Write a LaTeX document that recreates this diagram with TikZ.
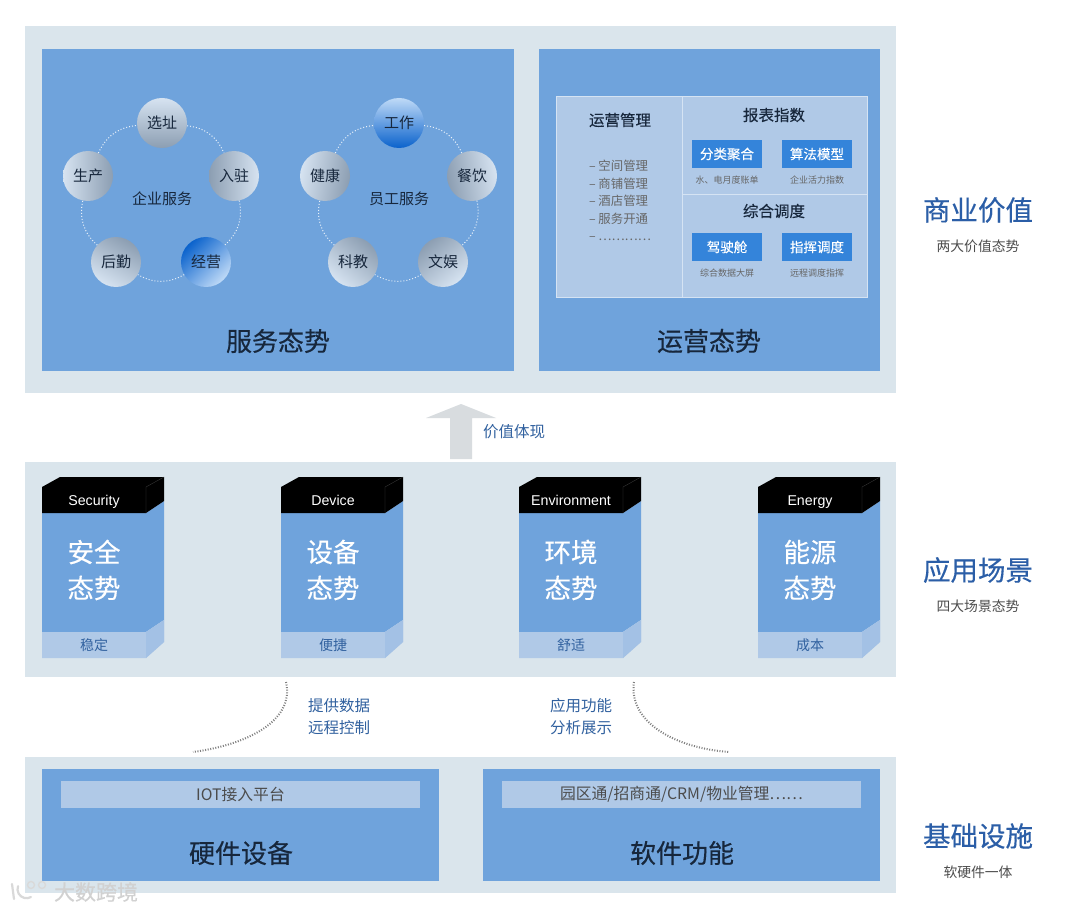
\documentclass[tikz,border=0pt]{standalone}
\usepackage{fontspec}
\setmainfont{Noto Sans CJK SC}
\newfontfamily\medfont[FakeBold=0.35]{Noto Sans CJK SC}
\newfontfamily\latinfont{Liberation Sans}
\usetikzlibrary{arrows.meta}
\definecolor{bandbg}{HTML}{DAE5EC}
\definecolor{panelblue}{HTML}{6FA3DC}
\definecolor{paleblue}{HTML}{B0C9E7}
\definecolor{btnblue}{HTML}{3484DA}
\definecolor{titleblue}{HTML}{2B5EA7}
\definecolor{labelblue}{HTML}{31619F}
\definecolor{inkdark}{HTML}{17273C}
\definecolor{ballhi}{HTML}{D6E3F1}
\definecolor{balllo}{HTML}{8C9EB2}
\definecolor{bluehi}{HTML}{BFDAF7}
\definecolor{bluelo}{HTML}{0A62CC}
\definecolor{arrowgray}{HTML}{D8DCDF}
\definecolor{boardline}{HTML}{D5E3F3}
\newcommand{\sizept}[1]{\fontsize{#1}{#1}\selectfont}
\tikzset{
  ball/.style={circle,inner sep=0pt,minimum size=50pt,text=inkdark,font=\sizept{15},
    top color=ballhi,bottom color=balllo,shading angle=#1},
  blueball/.style={circle,inner sep=0pt,minimum size=50pt,text=inkdark,font=\sizept{15},
    top color=bluehi,bottom color=bluelo,shading angle=#1},
  ringlink/.style={draw=white!85!panelblue,dotted,line width=1pt,bend left=30},
  linkcurve/.style={draw=black!50,line width=2pt,dash pattern=on 1pt off 1.6pt},
  paneltitle/.style={font=\medfont\sizept{26},text=inkdark},
  sidetitle/.style={font=\medfont\sizept{27.5},text=titleblue},
  sidenote/.style={font=\sizept{13.8},text=black!70},
  ringlabel/.style={font=\sizept{15},text=inkdark},
  flowlabel/.style={font=\fontsize{15.5}{22}\selectfont,text=labelblue,align=center},
  opshead/.style={font=\medfont\sizept{15.5},text=inkdark},
  opsbtn/.style={fill=btnblue,text=white,minimum width=70pt,minimum height=28pt,inner sep=0pt,font=\medfont\sizept{13.5}},
  opsnote/.style={font=\sizept{9},text=black!60},
  barlabel/.style={fill=paleblue,minimum width=359pt,minimum height=27pt,inner sep=0pt,font=\sizept{15.8},text=black!70},
  boardrule/.style={draw=boardline,line width=1pt},
}
\begin{document}
\begin{tikzpicture}[x=1pt,y=-1pt]
\useasboundingbox (0,0) rectangle (1080,912);
\fill[white] (0,0) rectangle (1080,912);
% state block helper: #1 = left-x, #2 = name, #3 = header, #4 = first line, #5 = foot label
\newcommand{\stateblock}[5]{%
  \fill[panelblue] (#1,513) -- (#1+104,513) -- (#1+122,501) -- (#1+122,620) -- (#1+104,632) -- (#1,632) -- cycle;
  \fill[paleblue] (#1,632) -- (#1+104,632) -- (#1+122,620) -- (#1+122,642) -- (#1+104,658) -- (#1,658) -- cycle;
  \fill[paleblue!80!panelblue] (#1+104,632) -- (#1+122,620) -- (#1+122,642) -- (#1+104,658) -- cycle;
  \fill[black] (#1,487) -- (#1+18,477) -- (#1+122,477) -- (#1+122,501) -- (#1+104,513) -- (#1,513) -- cycle;
  \draw[black!75,line width=0.3pt] (#1+104,513) -- (#1+104,487) -- (#1+122,477);
  \node[text=white,font=\latinfont\sizept{14.2},anchor=base] (#2head) at (#1+52,505) {#3};
  \node[text=white,font=\medfont\sizept{26.5}] (#2top) at (#1+52,552) {#4};
  \node[text=white,font=\medfont\sizept{26.5}] (#2low) at (#1+52,588) {态势};
  \node[text=labelblue,font=\sizept{14}] (#2foot) at (#1+52,645) {#5};
}
% three background bands
\fill[bandbg] (25,26) rectangle (896,393);
\fill[bandbg] (25,462) rectangle (896,677);
\fill[bandbg] (25,757) rectangle (896,893);
% top panels
\fill[panelblue] (42,49) rectangle (514,371);
\fill[panelblue] (539,49) rectangle (880,371);
\node[paneltitle] (svctitle) at (278,341) {服务态势};
\node[paneltitle] (opstitle) at (709,341) {运营态势};
% enterprise ring
\node[ball=0] (site) at (162,123) {选址};
\node[ball=90] (prod) at (88,176) {生产};
\node[ball=-90] (entry) at (234,176) {入驻};
\node[ball=150] (back) at (116,262) {后勤};
\node[blueball=225] (biz) at (206,262) {经营};
\node[ringlabel] (bizlabel) at (162,199) {企业服务};
\draw[ringlink] (prod) to (site);
\draw[ringlink] (site) to (entry);
\draw[ringlink] (entry) to (biz);
\draw[ringlink] (biz) to (back);
\draw[ringlink] (back) to (prod);
% staff ring
\node[blueball=0] (work) at (399,123) {工作};
\node[ball=80] (health) at (325,176) {健康};
\node[ball=-80] (food) at (472,176) {餐饮};
\node[ball=140] (edu) at (353,262) {科教};
\node[ball=220] (fun) at (443,262) {文娱};
\node[ringlabel] (stafflabel) at (399,199) {员工服务};
\draw[ringlink] (health) to (work);
\draw[ringlink] (work) to (food);
\draw[ringlink] (food) to (fun);
\draw[ringlink] (fun) to (edu);
\draw[ringlink] (edu) to (health);
% operations board
\fill[paleblue] (556,97) rectangle (867,298);
\draw[boardrule] (556,97) rectangle (867,298);
\draw[boardrule] (682,97) -- (682,298);
\draw[boardrule] (682,195) -- (867,195);
\node[opshead] (mgrhead) at (620,120) {运营管理};
\node[font=\fontsize{12.4}{17.6}\selectfont,text=black!60,align=left] (mgrlist) at (620,200.5)
  {– 空间管理\\ – 商铺管理\\ – 酒店管理\\ – 服务开通\\ – …………};
\node[opshead] (rpthead) at (774,115) {报表指数};
\node[opsbtn] (btnsort) at (727,154) {分类聚合};
\node[opsbtn] (btnalgo) at (817,154) {算法模型};
\node[opsnote] (notebill) at (727,180) {水、电月度账单};
\node[opsnote] (notepower) at (817,180) {企业活力指数};
\node[opshead] (dsphead) at (774,211) {综合调度};
\node[opsbtn] (btncab) at (727,247) {驾驶舱};
\node[opsbtn] (btncmd) at (817,247) {指挥调度};
\node[opsnote] (notescreen) at (727,273) {综合数据大屏};
\node[opsnote] (noteremote) at (817,273) {远程调度指挥};
% value arrow
\fill[arrowgray] (450,459) -- (450,418) -- (426,418) -- (461,404) -- (496,418) -- (472,418) -- (472,459) -- cycle;
\node[flowlabel] (valuelabel) at (514,432) {价值体现};
% four state blocks
\stateblock{42}{safe}{Security}{安全}{稳定}
\stateblock{281}{dev}{Device}{设备}{便捷}
\stateblock{519}{env}{Environment}{环境}{舒适}
\stateblock{758}{nrg}{Energy}{能源}{成本}
% dotted links
\coordinate (hwtop) at (286,682);
\coordinate (hwlow) at (193,752);
\coordinate (swtop) at (634,682);
\coordinate (swlow) at (729,752);
\draw[linkcurve] (hwtop) .. controls (295,722) and (245,745) .. (hwlow);
\draw[linkcurve] (swtop) .. controls (628,722) and (675,748) .. (swlow);
\node[flowlabel] (hwlabel) at (339,717) {提供数据\\远程控制};
\node[flowlabel] (swlabel) at (581,717) {应用功能\\分析展示};
% bottom panels
\fill[panelblue] (42,769) rectangle (439,881);
\fill[panelblue] (483,769) rectangle (880,881);
\node[barlabel] (iotbar) at (240.5,794.5) {IOT接入平台};
\node[barlabel] (appbar) at (681.5,794.5) {园区通/招商通/CRM/物业管理……};
\node[paneltitle] (hwtitle) at (241,853) {硬件设备};
\node[paneltitle] (swtitle) at (682,853) {软件功能};
% right hand titles
\node[sidetitle] (valtitle) at (978,210) {商业价值};
\node[sidenote] (valnote) at (978,246) {两大价值态势};
\node[sidetitle] (scntitle) at (978,570) {应用场景};
\node[sidenote] (scnnote) at (978,606) {四大场景态势};
\node[sidetitle] (bsetitle) at (978,836) {基础设施};
\node[sidenote] (bsenote) at (978,872) {软硬件一体};
% watermark
\draw[black!15,line width=2.2pt,line cap=round] (12,884) -- (14,899);
\draw[black!15,line width=2.2pt,line cap=round] (31,897) arc (60:200:9);
\draw[black!15,line width=1.4pt] (31,885) circle (3.5);
\draw[black!15,line width=1.4pt] (42,885) circle (3.5);
\node[font=\medfont\sizept{21},text=black!18] (markword) at (96,892) {大数跨境};
\end{tikzpicture}
\end{document}
